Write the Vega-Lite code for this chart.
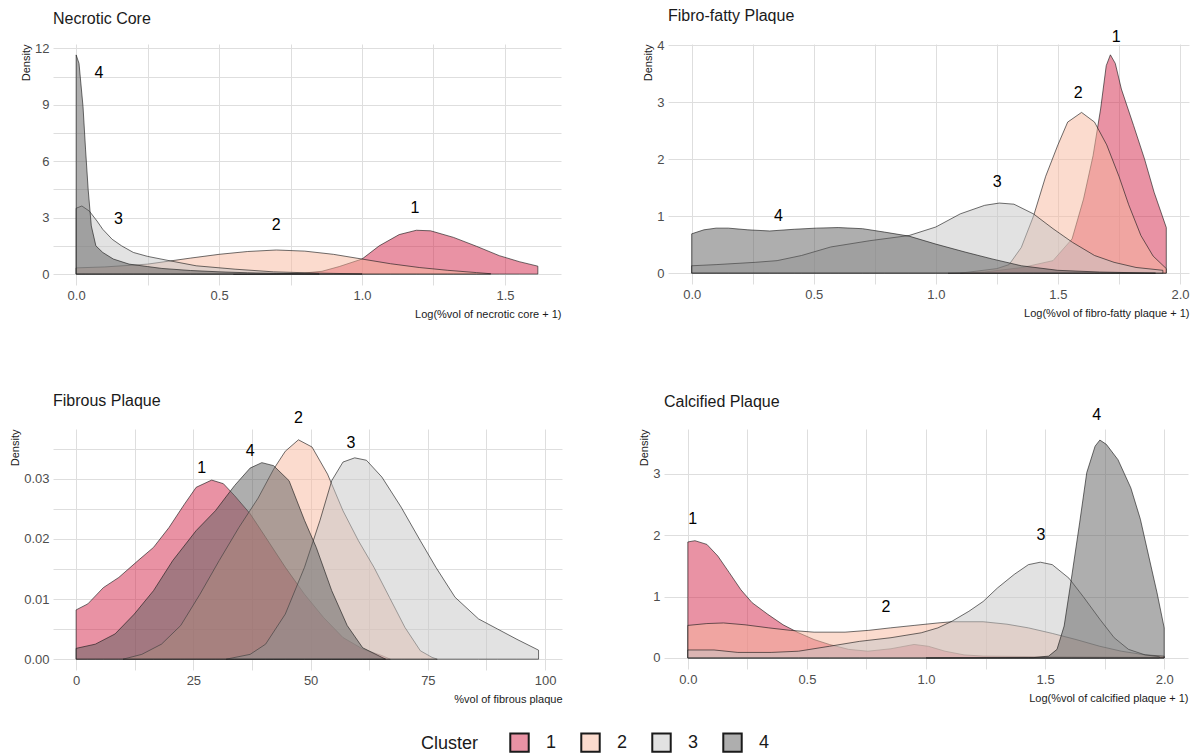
{
  "$schema": "https://vega.github.io/schema/vega-lite/v6.json",
  "description": "Density of plaque composition by cluster",
  "padding": {"left": 9, "top": 8, "right": 10, "bottom": 0},
  "background": "white",
  "config": {
    "font": "Liberation Sans",
    "view": {"stroke": null},
    "axis": {
      "domain": false,
      "ticks": false,
      "grid": true,
      "gridColor": "#dedede",
      "gridWidth": 1,
      "labelColor": "#4d4d4d",
      "labelFontSize": 13,
      "labelFont": "Liberation Sans",
      "titleFont": "Liberation Sans",
      "titleFontSize": 11,
      "titleFontWeight": "normal",
      "titleColor": "#1a1a1a",
      "titleAnchor": "end"
    },
    "axisX": {"labelPadding": 4, "titlePadding": 6},
    "axisY": {"labelPadding": 4, "titlePadding": 3},
    "title": {
      "anchor": "start",
      "frame": "group",
      "fontSize": 16,
      "fontWeight": "normal",
      "color": "#1a1a1a"
    },
    "legend": {
      "orient": "none",
      "legendX": 368,
      "legendY": 688,
      "direction": "horizontal",
      "titleOrient": "left",
      "titleFontSize": 18,
      "titleFontWeight": "normal",
      "titleColor": "#1a1a1a",
      "titlePadding": 30,
      "labelFontSize": 18,
      "labelColor": "#1a1a1a",
      "labelOffset": 16,
      "columnPadding": 20,
      "symbolType": "square",
      "symbolSize": 340,
      "symbolStrokeWidth": 2,
      "symbolStrokeColor": "#1a1a1a"
    }
  },
  "datasets": {
    "necrotic": [
      {"c": "1", "x": 0.55, "y": 0},
      {"c": "1", "x": 0.7, "y": 0.02},
      {"c": "1", "x": 0.8, "y": 0.06},
      {"c": "1", "x": 0.86, "y": 0.15},
      {"c": "1", "x": 0.92, "y": 0.4},
      {"c": "1", "x": 1.0, "y": 0.8},
      {"c": "1", "x": 1.06, "y": 1.5},
      {"c": "1", "x": 1.13, "y": 2.1},
      {"c": "1", "x": 1.19, "y": 2.33},
      {"c": "1", "x": 1.24, "y": 2.3},
      {"c": "1", "x": 1.32, "y": 1.95},
      {"c": "1", "x": 1.4, "y": 1.48},
      {"c": "1", "x": 1.48, "y": 0.98},
      {"c": "1", "x": 1.55, "y": 0.66},
      {"c": "1", "x": 1.615, "y": 0.42},
      {"c": "2", "x": 0, "y": 0.33},
      {"c": "2", "x": 0.1, "y": 0.38},
      {"c": "2", "x": 0.25, "y": 0.53},
      {"c": "2", "x": 0.4, "y": 0.85},
      {"c": "2", "x": 0.5, "y": 1.05},
      {"c": "2", "x": 0.6, "y": 1.2},
      {"c": "2", "x": 0.7, "y": 1.28},
      {"c": "2", "x": 0.8, "y": 1.22},
      {"c": "2", "x": 0.9, "y": 1.05},
      {"c": "2", "x": 1.0, "y": 0.8},
      {"c": "2", "x": 1.1, "y": 0.55},
      {"c": "2", "x": 1.2, "y": 0.35},
      {"c": "2", "x": 1.3, "y": 0.2},
      {"c": "2", "x": 1.4, "y": 0.08},
      {"c": "2", "x": 1.45, "y": 0.02},
      {"c": "3", "x": 0, "y": 3.5},
      {"c": "3", "x": 0.02, "y": 3.62},
      {"c": "3", "x": 0.046, "y": 3.35},
      {"c": "3", "x": 0.073, "y": 2.82},
      {"c": "3", "x": 0.093, "y": 2.38},
      {"c": "3", "x": 0.126, "y": 1.85},
      {"c": "3", "x": 0.159, "y": 1.5},
      {"c": "3", "x": 0.2, "y": 1.15},
      {"c": "3", "x": 0.25, "y": 0.94},
      {"c": "3", "x": 0.33, "y": 0.7},
      {"c": "3", "x": 0.42, "y": 0.44},
      {"c": "3", "x": 0.556, "y": 0.26},
      {"c": "3", "x": 0.69, "y": 0.12},
      {"c": "3", "x": 0.85, "y": 0.05},
      {"c": "3", "x": 1.0, "y": 0.01},
      {"c": "4", "x": 0, "y": 11.65},
      {"c": "4", "x": 0.01, "y": 11.2},
      {"c": "4", "x": 0.024, "y": 8.9},
      {"c": "4", "x": 0.033, "y": 6.6},
      {"c": "4", "x": 0.042, "y": 4.5},
      {"c": "4", "x": 0.053, "y": 2.56},
      {"c": "4", "x": 0.069, "y": 1.5},
      {"c": "4", "x": 0.093, "y": 1.15},
      {"c": "4", "x": 0.13, "y": 0.8},
      {"c": "4", "x": 0.185, "y": 0.53},
      {"c": "4", "x": 0.25, "y": 0.4},
      {"c": "4", "x": 0.3, "y": 0.3},
      {"c": "4", "x": 0.4, "y": 0.19},
      {"c": "4", "x": 0.5, "y": 0.12},
      {"c": "4", "x": 0.6, "y": 0.07},
      {"c": "4", "x": 0.7, "y": 0.04},
      {"c": "4", "x": 0.85, "y": 0.01}
    ],
    "fibrofatty": [
      {"c": "1", "x": 1.05, "y": 0},
      {"c": "1", "x": 1.2, "y": 0.02},
      {"c": "1", "x": 1.355, "y": 0.1},
      {"c": "1", "x": 1.48, "y": 0.22},
      {"c": "1", "x": 1.558, "y": 0.6},
      {"c": "1", "x": 1.605, "y": 1.3},
      {"c": "1", "x": 1.644, "y": 2.06},
      {"c": "1", "x": 1.675, "y": 2.88},
      {"c": "1", "x": 1.698, "y": 3.64},
      {"c": "1", "x": 1.715, "y": 3.83},
      {"c": "1", "x": 1.735, "y": 3.68},
      {"c": "1", "x": 1.76, "y": 3.23},
      {"c": "1", "x": 1.81, "y": 2.59},
      {"c": "1", "x": 1.855, "y": 2.0},
      {"c": "1", "x": 1.894, "y": 1.42},
      {"c": "1", "x": 1.944, "y": 0.8},
      {"c": "2", "x": 1.1, "y": 0},
      {"c": "2", "x": 1.25, "y": 0.08},
      {"c": "2", "x": 1.3, "y": 0.15},
      {"c": "2", "x": 1.35, "y": 0.45},
      {"c": "2", "x": 1.4, "y": 1.0},
      {"c": "2", "x": 1.45, "y": 1.7},
      {"c": "2", "x": 1.5, "y": 2.25},
      {"c": "2", "x": 1.54, "y": 2.65},
      {"c": "2", "x": 1.597, "y": 2.82},
      {"c": "2", "x": 1.65, "y": 2.65},
      {"c": "2", "x": 1.7, "y": 2.25},
      {"c": "2", "x": 1.75, "y": 1.7},
      {"c": "2", "x": 1.79, "y": 1.2},
      {"c": "2", "x": 1.84, "y": 0.66},
      {"c": "2", "x": 1.89, "y": 0.3},
      {"c": "2", "x": 1.944, "y": 0.08},
      {"c": "3", "x": 0, "y": 0.13},
      {"c": "3", "x": 0.1, "y": 0.15},
      {"c": "3", "x": 0.26, "y": 0.19},
      {"c": "3", "x": 0.35, "y": 0.22},
      {"c": "3", "x": 0.45, "y": 0.31},
      {"c": "3", "x": 0.57, "y": 0.46},
      {"c": "3", "x": 0.73, "y": 0.57},
      {"c": "3", "x": 0.89, "y": 0.66},
      {"c": "3", "x": 1.0, "y": 0.81},
      {"c": "3", "x": 1.1, "y": 1.04},
      {"c": "3", "x": 1.2, "y": 1.19},
      {"c": "3", "x": 1.26, "y": 1.23},
      {"c": "3", "x": 1.32, "y": 1.21},
      {"c": "3", "x": 1.4, "y": 1.04},
      {"c": "3", "x": 1.48, "y": 0.78},
      {"c": "3", "x": 1.56, "y": 0.54},
      {"c": "3", "x": 1.65, "y": 0.31},
      {"c": "3", "x": 1.73, "y": 0.19},
      {"c": "3", "x": 1.82, "y": 0.1},
      {"c": "3", "x": 1.93, "y": 0.05},
      {"c": "4", "x": 0, "y": 0.69},
      {"c": "4", "x": 0.05, "y": 0.76},
      {"c": "4", "x": 0.1, "y": 0.79},
      {"c": "4", "x": 0.15, "y": 0.79},
      {"c": "4", "x": 0.23, "y": 0.76},
      {"c": "4", "x": 0.32, "y": 0.74},
      {"c": "4", "x": 0.42, "y": 0.77},
      {"c": "4", "x": 0.51, "y": 0.79},
      {"c": "4", "x": 0.6, "y": 0.8},
      {"c": "4", "x": 0.7, "y": 0.78},
      {"c": "4", "x": 0.79, "y": 0.72},
      {"c": "4", "x": 0.89, "y": 0.65},
      {"c": "4", "x": 1.0, "y": 0.51},
      {"c": "4", "x": 1.12, "y": 0.37},
      {"c": "4", "x": 1.23, "y": 0.25},
      {"c": "4", "x": 1.35, "y": 0.13},
      {"c": "4", "x": 1.5, "y": 0.05},
      {"c": "4", "x": 1.67, "y": 0.02},
      {"c": "4", "x": 1.9, "y": 0}
    ],
    "fibrous": [
      {"c": "1", "x": 0, "y": 0.0082},
      {"c": "1", "x": 2.5, "y": 0.0092},
      {"c": "1", "x": 5.8, "y": 0.0119},
      {"c": "1", "x": 9.1, "y": 0.0136},
      {"c": "1", "x": 13.2, "y": 0.0164},
      {"c": "1", "x": 16.5, "y": 0.0186},
      {"c": "1", "x": 19.8, "y": 0.0219},
      {"c": "1", "x": 23.1, "y": 0.0258},
      {"c": "1", "x": 25.6, "y": 0.0286},
      {"c": "1", "x": 28.9, "y": 0.0298},
      {"c": "1", "x": 31.4, "y": 0.0292},
      {"c": "1", "x": 33.8, "y": 0.0272},
      {"c": "1", "x": 37.1, "y": 0.0242},
      {"c": "1", "x": 40.4, "y": 0.0203},
      {"c": "1", "x": 44.6, "y": 0.0153},
      {"c": "1", "x": 48.7, "y": 0.0108},
      {"c": "1", "x": 52.8, "y": 0.0069},
      {"c": "1", "x": 56.9, "y": 0.0036},
      {"c": "1", "x": 61.1, "y": 0.0017},
      {"c": "1", "x": 65.2, "y": 0.0006},
      {"c": "1", "x": 67, "y": 0},
      {"c": "2", "x": 10, "y": 0},
      {"c": "2", "x": 14, "y": 0.0008},
      {"c": "2", "x": 18.2, "y": 0.0025},
      {"c": "2", "x": 22.3, "y": 0.0056},
      {"c": "2", "x": 26.4, "y": 0.0108},
      {"c": "2", "x": 30.5, "y": 0.0164},
      {"c": "2", "x": 34.7, "y": 0.0219},
      {"c": "2", "x": 38.8, "y": 0.0268},
      {"c": "2", "x": 42.1, "y": 0.0316},
      {"c": "2", "x": 44.6, "y": 0.0346},
      {"c": "2", "x": 47.4, "y": 0.0365},
      {"c": "2", "x": 50.3, "y": 0.0353},
      {"c": "2", "x": 53.6, "y": 0.0308},
      {"c": "2", "x": 56.9, "y": 0.0247},
      {"c": "2", "x": 60.2, "y": 0.0197},
      {"c": "2", "x": 63.5, "y": 0.0153},
      {"c": "2", "x": 66.8, "y": 0.0103},
      {"c": "2", "x": 70.1, "y": 0.0053},
      {"c": "2", "x": 73.4, "y": 0.0014},
      {"c": "2", "x": 75.9, "y": 0.0003},
      {"c": "2", "x": 77, "y": 0},
      {"c": "3", "x": 32, "y": 0},
      {"c": "3", "x": 37.1, "y": 0.0008},
      {"c": "3", "x": 40.4, "y": 0.0025},
      {"c": "3", "x": 44.6, "y": 0.0075},
      {"c": "3", "x": 48.7, "y": 0.0153},
      {"c": "3", "x": 52, "y": 0.0231},
      {"c": "3", "x": 54.5, "y": 0.0297},
      {"c": "3", "x": 56.9, "y": 0.0328},
      {"c": "3", "x": 59.4, "y": 0.0335},
      {"c": "3", "x": 61.9, "y": 0.0331},
      {"c": "3", "x": 65.2, "y": 0.0303},
      {"c": "3", "x": 69.3, "y": 0.0253},
      {"c": "3", "x": 73.4, "y": 0.0197},
      {"c": "3", "x": 76.7, "y": 0.0153},
      {"c": "3", "x": 80.8, "y": 0.0103},
      {"c": "3", "x": 85.8, "y": 0.0067},
      {"c": "3", "x": 89.9, "y": 0.005},
      {"c": "3", "x": 94, "y": 0.0033},
      {"c": "3", "x": 98.6, "y": 0.0015},
      {"c": "4", "x": 0, "y": 0.0018},
      {"c": "4", "x": 4.1, "y": 0.0025},
      {"c": "4", "x": 8.3, "y": 0.0042},
      {"c": "4", "x": 12.4, "y": 0.0075},
      {"c": "4", "x": 16.5, "y": 0.0114},
      {"c": "4", "x": 20.6, "y": 0.0164},
      {"c": "4", "x": 25.6, "y": 0.0214},
      {"c": "4", "x": 29.7, "y": 0.0247},
      {"c": "4", "x": 33.8, "y": 0.0289},
      {"c": "4", "x": 37.1, "y": 0.0318},
      {"c": "4", "x": 39.6, "y": 0.0327},
      {"c": "4", "x": 42.1, "y": 0.0322},
      {"c": "4", "x": 45.4, "y": 0.0297},
      {"c": "4", "x": 48.7, "y": 0.0231},
      {"c": "4", "x": 51.2, "y": 0.0186},
      {"c": "4", "x": 54.5, "y": 0.0114},
      {"c": "4", "x": 57.8, "y": 0.0056},
      {"c": "4", "x": 61.1, "y": 0.0019},
      {"c": "4", "x": 65.2, "y": 0.0003},
      {"c": "4", "x": 66, "y": 0}
    ],
    "calcified": [
      {"c": "1", "x": 0, "y": 1.89},
      {"c": "1", "x": 0.03, "y": 1.91},
      {"c": "1", "x": 0.08, "y": 1.85},
      {"c": "1", "x": 0.126, "y": 1.66},
      {"c": "1", "x": 0.174, "y": 1.39},
      {"c": "1", "x": 0.223, "y": 1.11},
      {"c": "1", "x": 0.27, "y": 0.9},
      {"c": "1", "x": 0.336, "y": 0.71},
      {"c": "1", "x": 0.4, "y": 0.54},
      {"c": "1", "x": 0.465, "y": 0.41},
      {"c": "1", "x": 0.53, "y": 0.3},
      {"c": "1", "x": 0.594, "y": 0.22},
      {"c": "1", "x": 0.675, "y": 0.14},
      {"c": "1", "x": 0.756, "y": 0.11},
      {"c": "1", "x": 0.853, "y": 0.15},
      {"c": "1", "x": 0.95, "y": 0.22},
      {"c": "1", "x": 1.01, "y": 0.19},
      {"c": "1", "x": 1.08, "y": 0.11},
      {"c": "1", "x": 1.16, "y": 0.05},
      {"c": "1", "x": 1.24, "y": 0.03},
      {"c": "1", "x": 1.5, "y": 0.02},
      {"c": "1", "x": 2.0, "y": 0.01},
      {"c": "2", "x": 0, "y": 0.53},
      {"c": "2", "x": 0.08, "y": 0.56},
      {"c": "2", "x": 0.15, "y": 0.57},
      {"c": "2", "x": 0.24, "y": 0.54},
      {"c": "2", "x": 0.34, "y": 0.49},
      {"c": "2", "x": 0.43, "y": 0.45},
      {"c": "2", "x": 0.53, "y": 0.42},
      {"c": "2", "x": 0.66, "y": 0.42},
      {"c": "2", "x": 0.76, "y": 0.45},
      {"c": "2", "x": 0.85, "y": 0.49},
      {"c": "2", "x": 0.95, "y": 0.53},
      {"c": "2", "x": 1.05, "y": 0.57},
      {"c": "2", "x": 1.11, "y": 0.59},
      {"c": "2", "x": 1.24, "y": 0.59},
      {"c": "2", "x": 1.34, "y": 0.55},
      {"c": "2", "x": 1.43, "y": 0.49},
      {"c": "2", "x": 1.53, "y": 0.4},
      {"c": "2", "x": 1.63, "y": 0.3},
      {"c": "2", "x": 1.73, "y": 0.19},
      {"c": "2", "x": 1.82, "y": 0.11},
      {"c": "2", "x": 1.92, "y": 0.05},
      {"c": "2", "x": 2.0, "y": 0.03},
      {"c": "3", "x": 0, "y": 0.13},
      {"c": "3", "x": 0.11, "y": 0.13},
      {"c": "3", "x": 0.21, "y": 0.09},
      {"c": "3", "x": 0.35, "y": 0.09},
      {"c": "3", "x": 0.465, "y": 0.11},
      {"c": "3", "x": 0.594, "y": 0.19},
      {"c": "3", "x": 0.72, "y": 0.27},
      {"c": "3", "x": 0.853, "y": 0.33},
      {"c": "3", "x": 0.98, "y": 0.41},
      {"c": "3", "x": 1.05, "y": 0.49},
      {"c": "3", "x": 1.11, "y": 0.6},
      {"c": "3", "x": 1.18, "y": 0.76},
      {"c": "3", "x": 1.24, "y": 0.92},
      {"c": "3", "x": 1.3, "y": 1.14},
      {"c": "3", "x": 1.37, "y": 1.36},
      {"c": "3", "x": 1.43, "y": 1.52},
      {"c": "3", "x": 1.48, "y": 1.56},
      {"c": "3", "x": 1.53, "y": 1.52},
      {"c": "3", "x": 1.6, "y": 1.3},
      {"c": "3", "x": 1.66, "y": 1.0},
      {"c": "3", "x": 1.73, "y": 0.63},
      {"c": "3", "x": 1.79, "y": 0.33},
      {"c": "3", "x": 1.85, "y": 0.14},
      {"c": "3", "x": 1.92, "y": 0.05},
      {"c": "3", "x": 1.98, "y": 0.02},
      {"c": "4", "x": 1.0, "y": 0},
      {"c": "4", "x": 1.45, "y": 0.005},
      {"c": "4", "x": 1.515, "y": 0.03},
      {"c": "4", "x": 1.55, "y": 0.14},
      {"c": "4", "x": 1.58, "y": 0.52},
      {"c": "4", "x": 1.61, "y": 1.28},
      {"c": "4", "x": 1.645, "y": 2.2},
      {"c": "4", "x": 1.675, "y": 3.02},
      {"c": "4", "x": 1.71, "y": 3.45},
      {"c": "4", "x": 1.73, "y": 3.55},
      {"c": "4", "x": 1.757, "y": 3.48},
      {"c": "4", "x": 1.806, "y": 3.23},
      {"c": "4", "x": 1.86, "y": 2.77},
      {"c": "4", "x": 1.9, "y": 2.26},
      {"c": "4", "x": 1.935, "y": 1.66},
      {"c": "4", "x": 1.97, "y": 1.06},
      {"c": "4", "x": 2.0, "y": 0.49}
    ],
    "labels": [
      {"p": "necrotic", "c": "4", "x": 0.08, "y": 10.7},
      {"p": "necrotic", "c": "3", "x": 0.148, "y": 2.95},
      {"p": "necrotic", "c": "2", "x": 0.7, "y": 2.6},
      {"p": "necrotic", "c": "1", "x": 1.185, "y": 3.5},
      {"p": "fibrofatty", "c": "1", "x": 1.739, "y": 4.14},
      {"p": "fibrofatty", "c": "2", "x": 1.583, "y": 3.16},
      {"p": "fibrofatty", "c": "3", "x": 1.251, "y": 1.6},
      {"p": "fibrofatty", "c": "4", "x": 0.355, "y": 1.01},
      {"p": "fibrous", "c": "1", "x": 26.8, "y": 0.0318},
      {"p": "fibrous", "c": "4", "x": 37.1, "y": 0.0347},
      {"p": "fibrous", "c": "2", "x": 47.4, "y": 0.0401},
      {"p": "fibrous", "c": "3", "x": 58.6, "y": 0.036},
      {"p": "calcified", "c": "1", "x": 0.021, "y": 2.26},
      {"p": "calcified", "c": "2", "x": 0.832, "y": 0.83},
      {"p": "calcified", "c": "3", "x": 1.483, "y": 2.0},
      {"p": "calcified", "c": "4", "x": 1.717, "y": 3.96}
    ]
  },
  "spacing": 74,
  "vconcat": [
    {
      "spacing": 81,
      "hconcat": [
        {
          "width": 508,
          "height": 241,
          "title": {"text": "Necrotic Core", "offset": 15},
          "encoding": {
            "x": {
              "field": "x",
              "type": "quantitative",
              "title": "Log(%vol of necrotic core + 1)",
              "scale": {"domain": [-0.081, 1.696], "nice": false, "zero": false},
              "axis": {
                "values": [0, 0.25, 0.5, 0.75, 1, 1.25, 1.5],
                "format": ".1f",
                "labelExpr": "round(datum.value * 4) % 2 === 0 ? datum.label : ''"
              }
            },
            "y": {
              "field": "y",
              "type": "quantitative",
              "stack": null,
              "title": "Density",
              "scale": {"domain": [-0.58, 12.23], "nice": false, "zero": false},
              "axis": {
                "values": [0, 1.5, 3, 4.5, 6, 7.5, 9, 10.5, 12],
                "format": "d",
                "labelExpr": "round(datum.value * 2) % 6 === 0 ? datum.label : ''"
              }
            }
          },
          "layer": [
            {
              "data": {"name": "necrotic"},
              "mark": {"type": "area", "fillOpacity": 0.5, "stroke": "#1a1a1a", "strokeWidth": 0.7, "strokeOpacity": 0.9},
              "encoding": {
                "color": {
                  "field": "c",
                  "type": "nominal",
                  "title": "Cluster",
                  "scale": {"domain": ["1", "2", "3", "4"], "range": ["#d3264a", "#f8b79e", "#c6c6c6", "#5e5e5e"]},
                  "legend": {"encode": {"symbols": {"update": {"fillOpacity": {"value": 0.5}, "strokeOpacity": {"value": 1}}}}}
                }
              }
            },
            {
              "data": {"name": "labels"},
              "transform": [{"filter": "datum.p === 'necrotic'"}],
              "mark": {"type": "text", "fontSize": 16, "color": "black", "baseline": "middle", "align": "center"},
              "encoding": {"text": {"field": "c", "type": "nominal"}}
            }
          ]
        },
        {
          "width": 521,
          "height": 240,
          "title": {"text": "Fibro-fatty Plaque", "offset": 5},
          "encoding": {
            "x": {
              "field": "x",
              "type": "quantitative",
              "title": "Log(%vol of fibro-fatty plaque + 1)",
              "scale": {"domain": [-0.097, 2.037], "nice": false, "zero": false},
              "axis": {
                "values": [0, 0.25, 0.5, 0.75, 1, 1.25, 1.5, 1.75, 2],
                "format": ".1f",
                "labelExpr": "round(datum.value * 4) % 2 === 0 ? datum.label : ''"
              }
            },
            "y": {
              "field": "y",
              "type": "quantitative",
              "stack": null,
              "title": "Density",
              "scale": {"domain": [-0.19, 4.02], "nice": false, "zero": false},
              "axis": {
                "values": [0, 0.5, 1, 1.5, 2, 2.5, 3, 3.5, 4],
                "format": "d",
                "labelExpr": "round(datum.value * 2) % 2 === 0 ? datum.label : ''"
              }
            }
          },
          "layer": [
            {
              "data": {"name": "fibrofatty"},
              "mark": {"type": "area", "fillOpacity": 0.5, "stroke": "#1a1a1a", "strokeWidth": 0.7, "strokeOpacity": 0.9},
              "encoding": {
                "color": {
                  "field": "c",
                  "type": "nominal",
                  "title": "Cluster",
                  "scale": {"domain": ["1", "2", "3", "4"], "range": ["#d3264a", "#f8b79e", "#c6c6c6", "#5e5e5e"]},
                  "legend": {"encode": {"symbols": {"update": {"fillOpacity": {"value": 0.5}, "strokeOpacity": {"value": 1}}}}}
                }
              }
            },
            {
              "data": {"name": "labels"},
              "transform": [{"filter": "datum.p === 'fibrofatty'"}],
              "mark": {"type": "text", "fontSize": 16, "color": "black", "baseline": "middle", "align": "center"},
              "encoding": {"text": {"field": "c", "type": "nominal"}}
            }
          ]
        }
      ]
    },
    {
      "spacing": 76,
      "hconcat": [
        {
          "width": 509,
          "height": 241,
          "title": {"text": "Fibrous Plaque", "offset": 1},
          "encoding": {
            "x": {
              "field": "x",
              "type": "quantitative",
              "title": "%vol of fibrous plaque",
              "scale": {"domain": [-4.93, 103.6], "nice": false, "zero": false},
              "axis": {
                "values": [0, 12.5, 25, 37.5, 50, 62.5, 75, 87.5, 100],
                "format": "d",
                "labelExpr": "round(datum.value * 2) % 50 === 0 ? datum.label : ''"
              }
            },
            "y": {
              "field": "y",
              "type": "quantitative",
              "stack": null,
              "title": "Density",
              "scale": {"domain": [-0.0018, 0.0383], "nice": false, "zero": false},
              "axis": {
                "values": [0, 0.005, 0.01, 0.015, 0.02, 0.025, 0.03, 0.035],
                "format": ".2f",
                "labelExpr": "round(datum.value * 1000) % 10 === 0 ? datum.label : ''"
              }
            }
          },
          "layer": [
            {
              "data": {"name": "fibrous"},
              "mark": {"type": "area", "fillOpacity": 0.5, "stroke": "#1a1a1a", "strokeWidth": 0.7, "strokeOpacity": 0.9},
              "encoding": {
                "color": {
                  "field": "c",
                  "type": "nominal",
                  "title": "Cluster",
                  "scale": {"domain": ["1", "2", "3", "4"], "range": ["#d3264a", "#f8b79e", "#c6c6c6", "#5e5e5e"]},
                  "legend": {"encode": {"symbols": {"update": {"fillOpacity": {"value": 0.5}, "strokeOpacity": {"value": 1}}}}}
                }
              }
            },
            {
              "data": {"name": "labels"},
              "transform": [{"filter": "datum.p === 'fibrous'"}],
              "mark": {"type": "text", "fontSize": 16, "color": "black", "baseline": "middle", "align": "center"},
              "encoding": {"text": {"field": "c", "type": "nominal"}}
            }
          ]
        },
        {
          "width": 524,
          "height": 240,
          "title": {"text": "Calcified Plaque", "offset": -3},
          "encoding": {
            "x": {
              "field": "x",
              "type": "quantitative",
              "title": "Log(%vol of calcified plaque + 1)",
              "scale": {"domain": [-0.1, 2.1], "nice": false, "zero": false},
              "axis": {
                "values": [0, 0.25, 0.5, 0.75, 1, 1.25, 1.5, 1.75, 2],
                "format": ".1f",
                "labelExpr": "round(datum.value * 4) % 2 === 0 ? datum.label : ''"
              }
            },
            "y": {
              "field": "y",
              "type": "quantitative",
              "stack": null,
              "title": "Density",
              "scale": {"domain": [-0.18, 3.73], "nice": false, "zero": false},
              "axis": {
                "values": [0, 0.5, 1, 1.5, 2, 2.5, 3, 3.5],
                "format": "d",
                "labelExpr": "round(datum.value * 2) % 2 === 0 ? datum.label : ''"
              }
            }
          },
          "layer": [
            {
              "data": {"name": "calcified"},
              "mark": {"type": "area", "fillOpacity": 0.5, "stroke": "#1a1a1a", "strokeWidth": 0.7, "strokeOpacity": 0.9},
              "encoding": {
                "color": {
                  "field": "c",
                  "type": "nominal",
                  "title": "Cluster",
                  "scale": {"domain": ["1", "2", "3", "4"], "range": ["#d3264a", "#f8b79e", "#c6c6c6", "#5e5e5e"]},
                  "legend": {"encode": {"symbols": {"update": {"fillOpacity": {"value": 0.5}, "strokeOpacity": {"value": 1}}}}}
                }
              }
            },
            {
              "data": {"name": "labels"},
              "transform": [{"filter": "datum.p === 'calcified'"}],
              "mark": {"type": "text", "fontSize": 16, "color": "black", "baseline": "middle", "align": "center"},
              "encoding": {"text": {"field": "c", "type": "nominal"}}
            }
          ]
        }
      ]
    }
  ]
}
